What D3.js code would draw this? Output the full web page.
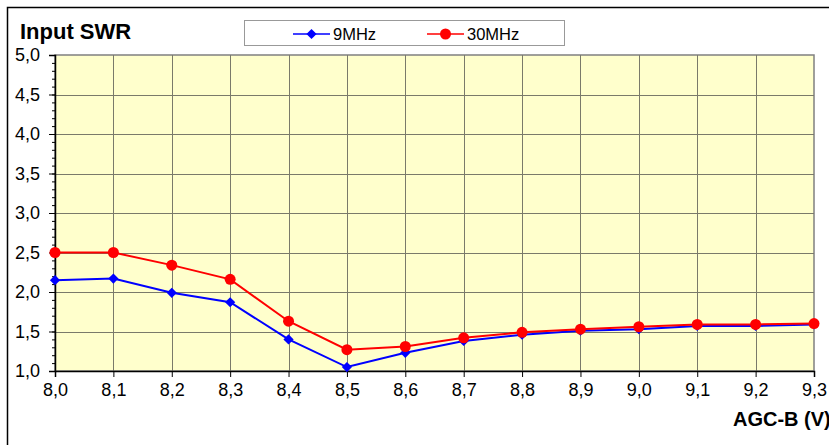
<!DOCTYPE html>
<html>
<head>
<meta charset="utf-8">
<script src="https://cdn.jsdelivr.net/npm/d3@7"></script>
<style>
  body { margin: 0; background: #fff; }
  svg { display: block; font-family: Arial, "Liberation Sans", sans-serif; }
  .tick text { font-size: 18px; font-family: Arial, "Liberation Sans", sans-serif; fill: #000; }
</style>
</head>
<body>
<svg id="chart" width="829" height="445"></svg>
<script>
const agc = [8.0, 8.1, 8.2, 8.3, 8.4, 8.5, 8.6, 8.7, 8.8, 8.9, 9.0, 9.1, 9.2, 9.3];
const swr9 = [2.15, 2.17, 1.99, 1.87, 1.40, 1.05, 1.23, 1.38, 1.46, 1.51, 1.53, 1.57, 1.57, 1.59];
const swr30 = [2.50, 2.50, 2.34, 2.16, 1.63, 1.27, 1.31, 1.42, 1.49, 1.53, 1.56, 1.59, 1.59, 1.60];
const yTicks = [1.0, 1.5, 2.0, 2.5, 3.0, 3.5, 4.0, 4.5, 5.0];
const seriesNames = ["9MHz", "30MHz"];

const svg = d3.select("#chart");
const plot = { left: 55, top: 55, right: 814, bottom: 371 };
const comma = (v) => v.toFixed(1).replace(".", ",");

const x = d3.scaleLinear().domain([8.0, 9.3]).range([plot.left, plot.right]);
const y = d3.scaleLinear().domain([1, 5]).range([plot.bottom, plot.top]);

// outer frame (cut off at right and bottom)
svg.append("path")
  .attr("d", "M7.5,445 V7.5 H829")
  .attr("fill", "none")
  .attr("stroke", "#000")
  .attr("stroke-width", 1.5);

// plot background
svg.append("rect")
  .attr("x", plot.left).attr("y", plot.top)
  .attr("width", plot.right - plot.left).attr("height", plot.bottom - plot.top)
  .attr("fill", "#ffffcc")
  .attr("stroke", "#808080")
  .attr("stroke-width", 1.5);

// grid
const grid = svg.append("g").attr("stroke", "#7a7a6a").attr("stroke-width", 1);
grid.selectAll("line.v").data(agc.slice(1, -1)).join("line")
  .attr("x1", (d) => Math.round(x(d)) + 0.5).attr("x2", (d) => Math.round(x(d)) + 0.5)
  .attr("y1", plot.top).attr("y2", plot.bottom);
grid.selectAll("line.h").data(yTicks.slice(1, -1)).join("line")
  .attr("y1", (d) => Math.round(y(d)) + 0.5).attr("y2", (d) => Math.round(y(d)) + 0.5)
  .attr("x1", plot.left).attr("x2", plot.right);

// y axis
const yAxis = svg.append("g")
  .attr("transform", `translate(${plot.left},0)`)
  .call(d3.axisLeft(y).tickValues(yTicks).tickFormat(comma).tickSize(6).tickPadding(9));
svg.append("g")
  .attr("transform", `translate(${plot.left},0)`)
  .call(d3.axisLeft(y).tickValues(d3.range(10, 51).map((d) => d / 10)).tickFormat("").tickSize(3))
  .select(".domain").remove();

// x axis
const xAxis = svg.append("g")
  .attr("transform", `translate(0,${plot.bottom})`)
  .call(d3.axisBottom(x).tickValues(agc).tickFormat(comma).tickSize(6).tickPadding(6));

[yAxis, xAxis].forEach((g) => {
  g.attr("font-size", 18);
  g.select(".domain").attr("stroke", "#000").attr("stroke-width", 1.5);
});

// lines
const line = d3.line().x((d, i) => x(agc[i])).y((d) => y(d));
svg.append("path").datum(swr9).attr("d", line)
  .attr("fill", "none").attr("stroke", "#0000ff").attr("stroke-width", 2);
svg.append("path").datum(swr30).attr("d", line)
  .attr("fill", "none").attr("stroke", "#ff0000").attr("stroke-width", 2);

// square diamond (rotated square)
const diamond = d3.symbol().type(d3.symbolSquare).size(52);
svg.append("g").selectAll("path").data(swr9).join("path")
  .attr("transform", (d, i) => `translate(${x(agc[i])},${y(d)}) rotate(45)`)
  .attr("d", diamond)
  .attr("fill", "#0000ff");
svg.append("g").selectAll("circle").data(swr30).join("circle")
  .attr("cx", (d, i) => x(agc[i])).attr("cy", (d) => y(d))
  .attr("r", 5.5)
  .attr("fill", "#ff0000");

// title
svg.append("text")
  .attr("x", 20).attr("y", 39)
  .attr("font-size", 22).attr("font-weight", "bold")
  .text("Input SWR");

// x axis title
svg.append("text")
  .attr("x", 733).attr("y", 426)
  .attr("font-size", 20).attr("font-weight", "bold")
  .text("AGC-B (V)");

// legend
const legend = svg.append("g");
legend.append("rect")
  .attr("x", 244.5).attr("y", 20.5).attr("width", 320).attr("height", 25)
  .attr("fill", "#fff").attr("stroke", "#999").attr("stroke-width", 1);
const legendItems = [
  { name: seriesNames[0], color: "#0000ff", x0: 293, shape: "diamond" },
  { name: seriesNames[1], color: "#ff0000", x0: 427, shape: "circle" }
];
legendItems.forEach((it) => {
  const g = legend.append("g");
  g.append("line")
    .attr("x1", it.x0).attr("x2", it.x0 + 37).attr("y1", 34).attr("y2", 34)
    .attr("stroke", it.color).attr("stroke-width", 1.5);
  if (it.shape === "diamond") {
    g.append("path").attr("d", diamond)
      .attr("transform", `translate(${it.x0 + 18.5},34) rotate(45)`).attr("fill", it.color);
  } else {
    g.append("circle").attr("cx", it.x0 + 18.5).attr("cy", 34).attr("r", 5.5).attr("fill", it.color);
  }
  g.append("text")
    .attr("x", it.x0 + 40).attr("y", 40)
    .attr("font-size", 16.5)
    .text(it.name);
});
</script>
</body>
</html>
